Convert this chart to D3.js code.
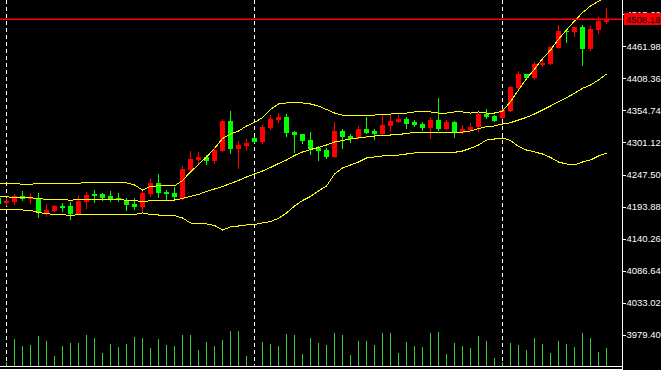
<!DOCTYPE html>
<html>
<head>
<meta charset="utf-8">
<script src="https://cdn.jsdelivr.net/npm/d3@7"></script>
<style>
  html, body { margin: 0; padding: 0; background: #000; }
  svg { display: block; }
</style>
</head>
<body>
<div id="chart"></div>
<script>
// bars from index -1 (half hidden at left edge) to 75
const open = [4208.7, 4199.8, 4200.7, 4212.0, 4206.5, 4208.7, 4180.9, 4185.9, 4194.3, 4194.8,
  4181.9, 4202.0, 4214.4, 4214.9, 4212.0, 4207.7, 4204.8, 4198.6, 4192.6, 4214.9,
  4233.3, 4218.2, 4216.5, 4207.0, 4255.0, 4271.8, 4276.8, 4270.1, 4286.8, 4337.0,
  4290.2, 4295.2, 4308.6, 4301.9, 4325.3, 4338.7, 4343.7, 4318.6, 4315.3, 4305.2,
  4291.8, 4288.5, 4276.8, 4320.3, 4311.9, 4308.6, 4323.6, 4320.3, 4315.3, 4328.7,
  4335.4, 4340.4, 4335.4, 4332.0, 4325.3, 4338.7, 4323.6, 4335.4, 4317.0, 4322.0,
  4327.0, 4348.7, 4345.4, 4342.0, 4353.7, 4392.2, 4415.7, 4409.0, 4430.7, 4432.4,
  4459.2, 4487.6, 4485.9, 4494.3, 4457.5, 4489.3, 4502.7]
const high = [4213.2, 4207.7, 4214.9, 4220.4, 4216.5, 4216.5, 4198.6, 4196.5, 4200.3, 4202.0,
  4213.2, 4217.4, 4221.6, 4217.0, 4219.4, 4216.5, 4207.4, 4207.4, 4221.6, 4240.0,
  4248.3, 4221.6, 4226.1, 4261.7, 4286.8, 4285.2, 4280.1, 4293.5, 4340.4, 4353.7,
  4303.5, 4306.1, 4310.3, 4330.3, 4347.0, 4350.4, 4348.7, 4319.5, 4316.1, 4318.6,
  4295.2, 4291.8, 4335.4, 4323.6, 4315.3, 4328.7, 4343.7, 4323.6, 4348.7, 4347.0,
  4347.0, 4343.7, 4338.7, 4335.4, 4343.7, 4375.5, 4338.7, 4337.0, 4330.3, 4333.7,
  4350.4, 4357.1, 4347.0, 4357.1, 4395.6, 4420.7, 4416.5, 4435.8, 4442.4, 4462.6,
  4497.7, 4488.5, 4494.3, 4497.7, 4496.0, 4511.0, 4526.1]
const low = [4194.8, 4195.3, 4196.5, 4203.2, 4198.1, 4175.2, 4176.4, 4184.3, 4184.3, 4170.9,
  4181.4, 4189.0, 4200.3, 4203.2, 4201.5, 4202.0, 4186.4, 4188.1, 4184.0, 4210.3,
  4208.7, 4204.8, 4206.5, 4205.3, 4250.0, 4265.1, 4263.4, 4265.1, 4285.2, 4281.8,
  4256.7, 4286.8, 4300.2, 4298.5, 4322.0, 4333.7, 4310.3, 4283.5, 4298.5, 4280.1,
  4270.1, 4273.5, 4275.1, 4290.2, 4300.2, 4306.9, 4315.3, 4305.2, 4313.6, 4318.6,
  4333.7, 4323.6, 4327.0, 4320.3, 4306.9, 4320.3, 4322.8, 4308.6, 4315.3, 4320.3,
  4318.6, 4340.4, 4335.4, 4340.4, 4352.9, 4391.4, 4405.6, 4405.6, 4427.4, 4430.7,
  4457.5, 4467.6, 4477.6, 4429.1, 4454.2, 4482.6, 4499.3]
const close = [4197.6, 4202.4, 4212.0, 4207.0, 4208.7, 4182.6, 4188.1, 4194.8, 4191.9, 4181.9,
  4203.2, 4213.2, 4212.0, 4208.7, 4205.3, 4204.8, 4196.5, 4193.1, 4216.5, 4233.3,
  4216.5, 4214.9, 4209.9, 4256.7, 4273.5, 4276.8, 4270.1, 4288.5, 4337.0, 4290.2,
  4296.8, 4300.2, 4301.9, 4327.0, 4340.4, 4343.7, 4317.0, 4313.6, 4303.5, 4290.2,
  4286.8, 4276.8, 4320.3, 4310.3, 4306.9, 4323.6, 4317.0, 4315.3, 4330.3, 4337.0,
  4340.4, 4332.0, 4330.3, 4325.3, 4338.7, 4323.6, 4335.4, 4318.6, 4323.6, 4327.0,
  4348.7, 4343.7, 4337.0, 4355.4, 4393.9, 4415.7, 4409.0, 4432.4, 4434.1, 4460.9,
  4487.6, 4485.9, 4494.3, 4457.5, 4491.0, 4504.4, 4508.18]
const volume = [1000, 200, 1350, 1000, 1050, 1500, 1250, 500, 1000, 1150,
  1150, 1550, 1400, 650, 1100, 950, 1100, 1450, 1400, 900,
  1350, 1050, 1000, 1550, 1550, 800, 1200, 1000, 1300, 1750,
  1750, 500, 50, 1200, 1100, 1000, 1600, 1550, 600, 1400,
  1150, 1050, 1650, 1550, 550, 1250, 1250, 1050, 1650, 1650,
  650, 1200, 1000, 950, 1650, 1700, 600, 1150, 1000, 900,
  1500, 1250, 400, 200, 1150, 1050, 800, 1400, 1100, 650,
  1250, 1100, 950, 1650, 1400, 700, 900]
// bollinger bands
const upper = [4232.8, 4232.8, 4232.8, 4231.1, 4231.1, 4232.8, 4232.8, 4232.8, 4232.8, 4232.8,
  4232.8, 4234.5, 4234.5, 4234.5, 4234.5, 4234.5, 4233.3, 4230.0, 4221.6, 4227.6,
  4228.5, 4228.5, 4228.5, 4237.5, 4251.7, 4264.2, 4276.8, 4291.0, 4307.7, 4315.3,
  4320.3, 4328.7, 4334.5, 4342.9, 4356.3, 4365.5, 4367.2, 4367.2, 4367.2, 4365.5,
  4362.1, 4356.3, 4350.4, 4347.0, 4347.0, 4347.0, 4347.0, 4347.0, 4347.9, 4348.7,
  4350.4, 4350.4, 4352.1, 4352.1, 4352.1, 4350.4, 4350.4, 4352.1, 4352.1, 4350.4,
  4352.1, 4350.4, 4350.4, 4353.7, 4369.3, 4388.9, 4407.8, 4423.5, 4441.3, 4455.8,
  4473.7, 4489.3, 4504.4, 4518.3, 4529.5, 4537.3, 4546.2]
const middle = [4210.4, 4210.4, 4208.7, 4208.7, 4208.7, 4207.0, 4206.0, 4206.0, 4206.0, 4204.3,
  4206.0, 4206.0, 4206.0, 4206.0, 4206.0, 4206.0, 4204.3, 4204.3, 4201.5, 4204.0,
  4204.0, 4204.0, 4204.8, 4207.4, 4210.7, 4214.1, 4219.1, 4223.2, 4227.4, 4232.4,
  4237.5, 4243.3, 4248.3, 4253.4, 4259.2, 4265.9, 4271.8, 4279.3, 4285.2, 4289.3,
  4292.7, 4296.9, 4301.9, 4304.4, 4306.9, 4308.6, 4310.3, 4311.9, 4312.4, 4313.6,
  4314.4, 4316.1, 4318.1, 4318.1, 4318.1, 4318.1, 4318.1, 4318.1, 4318.6, 4320.3,
  4324.5, 4327.5, 4328.7, 4332.0, 4334.2, 4338.7, 4343.2, 4348.7, 4355.4, 4362.1,
  4369.3, 4376.0, 4383.4, 4391.7, 4397.3, 4405.6, 4415.7]
const lower = [4188.1, 4188.1, 4188.1, 4188.1, 4187.3, 4183.9, 4181.9, 4180.6, 4180.2, 4178.9,
  4180.2, 4180.2, 4180.2, 4180.2, 4180.2, 4180.2, 4180.2, 4180.6, 4183.1, 4180.6,
  4179.7, 4179.7, 4178.9, 4174.7, 4166.4, 4165.5, 4164.7, 4162.2, 4154.6, 4159.7,
  4161.3, 4163.0, 4163.8, 4166.4, 4168.9, 4173.9, 4183.1, 4194.8, 4204.0, 4210.7,
  4219.9, 4228.3, 4248.3, 4258.4, 4263.4, 4268.4, 4275.1, 4276.8, 4278.5, 4279.3,
  4280.1, 4281.8, 4283.5, 4283.5, 4283.5, 4284.6, 4284.6, 4284.6, 4286.8, 4291.3,
  4296.9, 4305.2, 4306.9, 4308.6, 4304.4, 4294.4, 4288.5, 4285.2, 4281.8, 4276.0,
  4268.4, 4265.1, 4263.4, 4268.4, 4271.8, 4278.5, 4283.5]

const ticks = [3979.40, 4033.02, 4086.64, 4140.26, 4193.88, 4247.50, 4301.12, 4354.74, 4408.36, 4461.98, 4515.60]
const lastPrice = 4508.18
const separators = [0, 31, 62] // bar index of the dashed day lines

// layout
const width = 661
const height = 370
const plotRight = 622
const plotBottom = 366
const font = 'Liberation Sans, Arial, sans-serif'

const svg = d3.select('#chart').append('svg')
  .attr('width', width)
  .attr('height', height)

svg.append('rect')
  .attr('width', width).attr('height', height)
  .attr('fill', '#000')

svg.append('defs').append('clipPath').attr('id', 'plot')
  .append('rect').attr('x', 0).attr('y', 0)
  .attr('width', plotRight).attr('height', plotBottom)

const bars = d3.range(-1, 76)
const x = d3.scaleLinear().domain([0, 75]).range([6.5, 606.5])
const y = d3.scaleLinear().domain([3979.40, 4515.60]).range([334.7, 14.3])
const yVol = d3.scaleLinear().domain([0, 1750]).range([plotBottom, 331])

const plot = svg.append('g').attr('clip-path', 'url(#plot)')

// dashed separators
plot.selectAll('.sep')
  .data(separators).enter()
  .append('line')
  .attr('x1', d => x(d)).attr('x2', d => x(d))
  .attr('y1', 0).attr('y2', plotBottom)
  .attr('stroke', '#fff')
  .attr('stroke-dasharray', '4,3')
  .attr('shape-rendering', 'crispEdges')

// volumes
plot.selectAll('.vol')
  .data(bars).enter()
  .append('line')
  .attr('x1', i => x(i)).attr('x2', i => x(i))
  .attr('y1', plotBottom)
  .attr('y2', (i, k) => yVol(volume[k]))
  .attr('stroke', '#32cd32')
  .attr('shape-rendering', 'crispEdges')

// candles, red = up, green = down
const up = k => close[k] >= open[k]
const candle = plot.selectAll('.candle')
  .data(bars).enter()
  .append('g')

candle.append('line')
  .attr('x1', i => x(i)).attr('x2', i => x(i))
  .attr('y1', (i, k) => y(high[k]))
  .attr('y2', (i, k) => y(low[k]))
  .attr('stroke', (i, k) => up(k) ? '#ff0000' : '#00ff00')
  .attr('shape-rendering', 'crispEdges')

candle.append('rect')
  .attr('x', i => x(i) - 2.5)
  .attr('width', 5)
  .attr('y', (i, k) => y(Math.max(open[k], close[k])))
  .attr('height', (i, k) => Math.max(1, Math.abs(y(open[k]) - y(close[k]))))
  .attr('fill', (i, k) => up(k) ? '#ff0000' : '#00ff00')
  .attr('shape-rendering', 'crispEdges')

// bands
const bandLine = d3.line()
  .x(d => x(d[0]))
  .y(d => y(d[1]))

;[upper, middle, lower].forEach(series => {
  plot.append('path')
    .datum(bars.map((i, k) => [i, series[k]]))
    .attr('d', bandLine)
    .attr('fill', 'none')
    .attr('stroke', '#ffff00')
    .attr('stroke-width', 1)
    .attr('shape-rendering', 'crispEdges')
})

// current price line
const py = Math.round(y(lastPrice))
svg.append('rect')
  .attr('x', 0).attr('y', py - 0.5)
  .attr('width', plotRight + 3).attr('height', 1.5)
  .attr('fill', '#ff0000')

// frame
svg.append('line')
  .attr('x1', plotRight + 0.5).attr('x2', plotRight + 0.5)
  .attr('y1', 0).attr('y2', plotBottom + 4)
  .attr('stroke', '#fff')
  .attr('shape-rendering', 'crispEdges')
svg.selectAll('.base')
  .data([plotBottom + 0.5, plotBottom + 3.5]).enter()
  .append('line')
  .attr('x1', 0).attr('x2', plotRight + 1)
  .attr('y1', d => d).attr('y2', d => d)
  .attr('stroke', '#fff')
  .attr('shape-rendering', 'crispEdges')

// price axis
const yAxis = d3.axisRight(y)
  .tickValues(ticks)
  .tickSize(3)
  .tickPadding(1)
  .tickFormat(d3.format('.2f'))

const axisG = svg.append('g')
  .attr('transform', `translate(${plotRight + 0.5}, 0)`)
  .call(yAxis)
axisG.select('.domain').remove()
axisG.selectAll('line').attr('stroke', '#fff').attr('shape-rendering', 'crispEdges')
axisG.selectAll('text')
  .attr('fill', '#fff')
  .attr('font-family', font)
  .attr('font-size', '9.5px')

// last price label
svg.append('rect')
  .attr('x', plotRight + 2).attr('y', py - 6)
  .attr('width', width - plotRight - 2).attr('height', 12)
  .attr('fill', '#ff0000')
svg.append('text')
  .attr('x', plotRight + 4).attr('y', py + 0.5)
  .attr('dy', '0.35em')
  .attr('fill', '#000')
  .attr('font-family', font)
  .attr('font-size', '9.5px')
  .text(lastPrice.toFixed(2))
</script>
</body>
</html>
